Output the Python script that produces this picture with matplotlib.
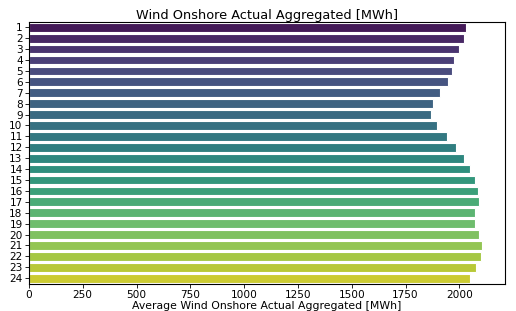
import colorsys
import numpy as np
import matplotlib
matplotlib.use('Agg')
import matplotlib.pyplot as plt

hours = [str(h) for h in range(1, 25)]
avg_wind = [2030, 2019, 1997, 1975, 1965, 1946, 1910, 1876, 1870, 1895, 1941, 1982,
            2019, 2048, 2070, 2088, 2091, 2073, 2070, 2091, 2107, 2102, 2076, 2051]

# same sampling as seaborn's "viridis" palette, with barplot's 0.75 saturation
base = plt.get_cmap('viridis')(np.linspace(0, 1, len(hours) + 2)[1:-1])
colors = []
for c in base:
    h, l, s = colorsys.rgb_to_hls(*c[:3])
    colors.append(colorsys.hls_to_rgb(h, l, s * 0.75))

fig = plt.figure(figsize=(5.16, 3.11), dpi=100)
ax = fig.add_axes([0.056, 0.088, 0.923, 0.842])
ypos = np.arange(len(hours))
ax.barh(ypos, avg_wind, height=0.8, color=colors, edgecolor='white', linewidth=0.8)
ax.set_yticks(ypos)
ax.set_yticklabels(hours)
ax.set_ylim(len(hours) - 0.5, -0.5)
ax.set_xlim(0, max(avg_wind) * 1.05)
ax.set_xticks(np.arange(0, 2001, 250))
ax.tick_params(labelsize=7.6, length=3, width=0.6, pad=1.5)
for s in ax.spines.values():
    s.set_linewidth(0.8)
ax.set_title('Wind Onshore Actual Aggregated [MWh]', fontsize=9.3, pad=2)
ax.set_xlabel('Average Wind Onshore Actual Aggregated [MWh]', fontsize=7.8, labelpad=0.5)
fig.savefig('out.png', dpi=100)
